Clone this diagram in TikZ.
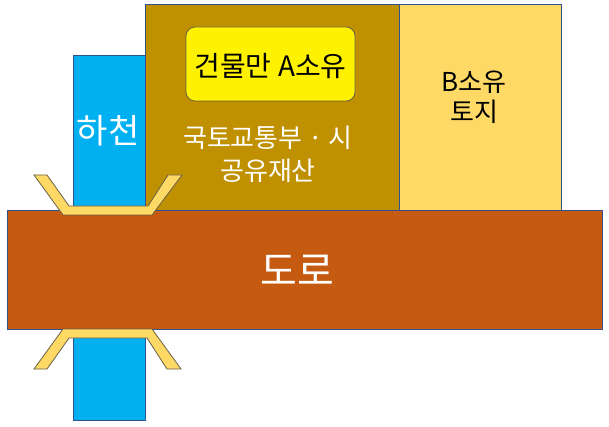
\documentclass[tikz,border=0pt]{standalone}
\usepackage{fontspec}
\setmainfont{Noto Sans CJK KR}
\definecolor{lotbrown}{HTML}{BF9000}
\definecolor{lotb}{HTML}{FFD966}
\definecolor{road}{HTML}{C55A11}
\definecolor{river}{HTML}{00B0F0}
\definecolor{edge}{HTML}{2F528F}
\definecolor{railedge}{RGB}{105,95,70}
\tikzset{
  area/.style={draw=edge, line width=0.8pt},
  rail/.style={fill=lotb, draw=railedge, line width=0.8pt, line join=miter},
  lbl/.style={inner sep=0pt, align=center},
}
\begin{document}
\begin{tikzpicture}[x=1pt,y=-1pt]
\useasboundingbox (0,0) rectangle (609,427);
% river (upper)
\draw[area, fill=river] (73,55) rectangle (145,210);
% lots
\draw[area, fill=lotbrown] (145,4) rectangle (399,210);
\draw[area, fill=lotb] (399,4) rectangle (561,210);
% road
\draw[area, fill=road] (7,210) rectangle (602,329);
% river (lower)
\draw[area, fill=river] (73,329) rectangle (145,420);
% railings
\draw[rail] (34,175) -- (47,175) -- (69,206) -- (148,206) -- (168,175) -- (182,175) -- (152,215) -- (63,215) -- cycle;
\draw[rail] (63,329) -- (152,329) -- (181,369) -- (167,369) -- (147,338) -- (69,338) -- (47,369) -- (34,369) -- cycle;
% building box
\node[draw=railedge, line width=0.8pt, fill=yellow, rounded corners=9pt, minimum width=169pt, minimum height=74pt, inner sep=0pt] (bldg) at (270.5,64) {};
\node[lbl, font=\fontsize{28}{32}\selectfont] (bldgtxt) at (270.5,66) {건물만 A소유};
% texts
\node[lbl, text=white, font=\fontsize{34}{38}\selectfont] (rivertxt) at (108,131) {하천};
\node[lbl, text=white, font=\fontsize{26}{33}\selectfont] (pubtxt) at (268,154) {국토교통부 · 시\\공유재산};
\node[lbl, font=\fontsize{26}{30}\selectfont] (btxt) at (474,97) {B소유\\토지};
\node[lbl, text=white, font=\fontsize{40}{44}\selectfont] (roadtxt) at (297,270) {도로};
\end{tikzpicture}
\end{document}
